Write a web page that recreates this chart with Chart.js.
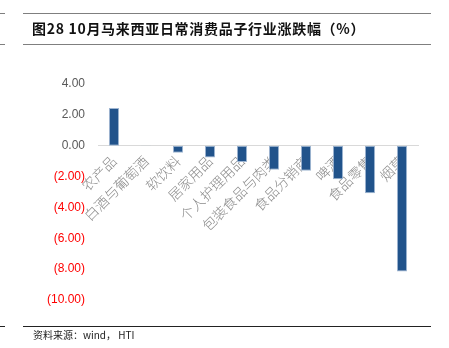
<!DOCTYPE html>
<html>
<head>
<meta charset="utf-8">
<script src="https://cdn.jsdelivr.net/npm/chart.js@4"></script>
<style>
  body { margin: 0; background: #fff; }
  #wrap { position: relative; width: 449px; height: 348px; }
  #chart { position: absolute; left: 0; top: 0; }
  .rule { position: absolute; height: 1px; background: #7f7f7f; }
  #title { position: absolute; left: 32px; top: 18px; font: bold 14px "Noto Sans CJK SC", sans-serif; letter-spacing: 0.7px; color: #111; }
  #src { position: absolute; left: 33px; top: 327px; font: 10px "Noto Sans CJK SC", sans-serif; color: #222; }
</style>
</head>
<body>
<div id="wrap">
  <canvas id="chart" width="449" height="348"></canvas>
  <div class="rule" style="left:0;width:5px;top:13px"></div>
  <div class="rule" style="left:23px;width:408px;top:13px"></div>
  <div class="rule" style="left:0;width:5px;top:44px"></div>
  <div class="rule" style="left:23px;width:408px;top:44px"></div>
  <div class="rule" style="left:0;width:5px;top:326px;background:#222"></div>
  <div class="rule" style="left:23px;width:408px;top:326px;background:#222"></div>
  <div id="title">图28 10月马来西亚日常消费品子行业涨跌幅（%）</div>
  <div id="src">资料来源：wind， HTI</div>
</div>
<script>
const categories = ['农产品', '白酒与葡萄酒', '软饮料', '居家用品', '个人护理用品', '包装食品与肉类', '食品分销商', '啤酒', '食品零售', '烟草'];
const changes = [2.45, 0.02, -0.45, -0.77, -1.05, -1.55, -1.62, -2.18, -3.08, -8.15];
const yTicks = [4, 2, 0, -2, -4, -6, -8, -10];

function fmt(v) {
    const s = Math.abs(v).toFixed(2);
    return v < 0 ? '(' + s + ')' : s;
}

const ctx = document.getElementById('chart').getContext('2d');
new Chart(ctx, {
    type: 'bar',
    data: {
        labels: categories,
        datasets: [{
            data: changes,
            backgroundColor: '#21538b',
            borderColor: '#9fb6d2',
            borderWidth: 1,
            borderSkipped: false,
            barPercentage: 0.32,
            categoryPercentage: 1
        }]
    },
    options: {
        responsive: false,
        animation: false,
        layout: { padding: { top: 84, bottom: 48, right: 31, left: 0 } },
        plugins: { legend: { display: false }, tooltip: { enabled: false } },
        scales: {
            x: {
                position: { y: 0 },
                grid: { display: false, drawTicks: false },
                border: { color: '#d9d9d9', width: 1 },
                ticks: {
                    minRotation: 45,
                    maxRotation: 45,
                    padding: 7,
                    color: '#8c8c8c',
                    font: { family: '"Noto Sans CJK SC"', size: 14, weight: 300 }
                }
            },
            y: {
                min: -10,
                max: 4,
                afterBuildTicks: (scale) => { scale.ticks = yTicks.map(v => ({ value: v })); },
                afterFit: (scale) => { scale.width = 98; },
                grid: { display: false, drawTicks: false },
                border: { display: false },
                ticks: {
                    padding: 13,
                    callback: (v) => fmt(v),
                    color: (c) => c.tick.value < 0 ? '#ff0000' : '#595959',
                    font: { family: 'Liberation Sans', size: 12 }
                }
            }
        }
    }
});
</script>
</body>
</html>
